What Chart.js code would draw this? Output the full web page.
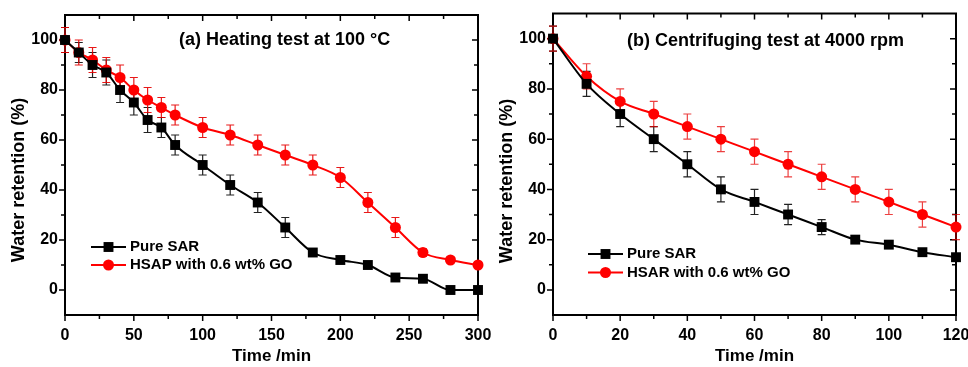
<!DOCTYPE html>
<html>
<head>
<meta charset="utf-8">
<script src="https://cdn.jsdelivr.net/npm/chart.js@4.4.1/dist/chart.umd.min.js"></script>
<style>
    body { margin: 0; background: #fff; }
    .panel { position: absolute; top: 0; height: 367px; }
</style>
</head>
<body>
<div class="panel" style="left:0; width:500px"><canvas id="chartA" width="500" height="367"></canvas></div>
<div class="panel" style="left:484px; width:484px"><canvas id="chartB" width="484" height="367"></canvas></div>
<script>
// Panel (a) heating test data
const timeA = [0, 10, 20, 30, 40, 50, 60, 70, 80, 100, 120, 140, 160, 180, 200, 220, 240, 260, 280, 300];
const pureA = [100, 95, 90, 87, 80, 75, 68, 65, 58, 50, 42, 35, 25, 15, 12, 10, 5, 4.5, 0, 0];
const pureErrA = [5, 4, 5, 5, 5, 5, 5, 4, 4, 4, 4, 4, 4, 1, 1, 1, 1, 1, 1, 1];
const hsapA = [100, 95, 92, 88, 85, 80, 76, 73, 70, 65, 62, 58, 54, 50, 45, 35, 25, 15, 12, 10];
const hsapErrA = [5, 5, 5, 5, 5, 5, 5, 4, 4, 4, 4, 4, 4, 4, 4, 4, 4, 1.5, 1, 1];

// Panel (b) centrifuging test data
const timeB = [0, 10, 20, 30, 40, 50, 60, 70, 80, 90, 100, 110, 120];
const pureB = [100, 82, 70, 60, 50, 40, 35, 30, 25, 20, 18, 15, 13];
const pureErrB = [5, 5, 5, 5, 5, 5, 5, 4, 3, 1, 1, 1, 1];
const hsarB = [100, 85, 75, 70, 65, 60, 55, 50, 45, 40, 35, 30, 25];
const hsarErrB = [5, 5, 5, 5, 5, 5, 5, 5, 5, 5, 5, 5, 5];

// Tick labels
const yTicks = [0, 20, 40, 60, 80, 100];
const xTicksA = [0, 50, 100, 150, 200, 250, 300];
const xTicksB = [0, 20, 40, 60, 80, 100, 120];

const FONT = "'Liberation Sans', Arial, sans-serif";

function toPoints(xs, ys)
{
    return xs.map((x, i) => ({ x: x, y: ys[i] }));
}

function midpoints(values)
{
    var mids = [];
    for (var i = 0; i < values.length - 1; i++) {
        mids.push((values[i] + values[i + 1]) / 2);
    }
    return mids;
}

// Frame, mirrored ticks, error bars, inner title and legend
const decorPlugin = {
    id: 'decor',
    beforeDatasetsDraw(chart, args, opts) {
        var ctx = chart.ctx;
        var area = chart.chartArea;
        var xs = chart.scales.x;
        var ys = chart.scales.y;

        ctx.save();
        ctx.strokeStyle = '#000';
        ctx.lineWidth = 2;
        ctx.strokeRect(area.left, area.top, area.right - area.left, area.bottom - area.top);

        var xMajor = xs.ticks.map(t => t.value);
        var yMajor = ys.ticks.map(t => t.value);
        ctx.lineWidth = 1.5;
        ctx.beginPath();
        xMajor.forEach(v => {
            var px = xs.getPixelForValue(v);
            ctx.moveTo(px, area.bottom); ctx.lineTo(px, area.bottom + 6);
            ctx.moveTo(px, area.top); ctx.lineTo(px, area.top + 6);
        });
        midpoints(xMajor).forEach(v => {
            var px = xs.getPixelForValue(v);
            ctx.moveTo(px, area.bottom); ctx.lineTo(px, area.bottom + 4);
            ctx.moveTo(px, area.top); ctx.lineTo(px, area.top + 4);
        });
        yMajor.forEach(v => {
            var py = ys.getPixelForValue(v);
            ctx.moveTo(area.left - 6, py); ctx.lineTo(area.left, py);
            ctx.moveTo(area.right - 6, py); ctx.lineTo(area.right, py);
        });
        midpoints(yMajor).forEach(v => {
            var py = ys.getPixelForValue(v);
            ctx.moveTo(area.left - 4, py); ctx.lineTo(area.left, py);
            ctx.moveTo(area.right - 4, py); ctx.lineTo(area.right, py);
        });
        ctx.stroke();

        // Error bars
        chart.data.datasets.forEach(ds => {
            ctx.strokeStyle = ds.errorColor;
            ctx.lineWidth = 1.2;
            ctx.beginPath();
            ds.data.forEach((p, i) => {
                var err = ds.errors[i];
                var px = xs.getPixelForValue(p.x);
                var top = ys.getPixelForValue(p.y + err);
                var bottom = ys.getPixelForValue(p.y - err);
                ctx.moveTo(px, top); ctx.lineTo(px, bottom);
                ctx.moveTo(px - 4, top); ctx.lineTo(px + 4, top);
                ctx.moveTo(px - 4, bottom); ctx.lineTo(px + 4, bottom);
            });
            ctx.stroke();
        });
        ctx.restore();
    },
    afterDraw(chart, args, opts) {
        var ctx = chart.ctx;
        var area = chart.chartArea;
        ctx.save();
        ctx.fillStyle = '#000';

        // Panel title inside plot
        ctx.font = 'bold 18px ' + FONT;
        ctx.textBaseline = 'middle';
        ctx.textAlign = 'left';
        ctx.fillText(opts.title, area.left + opts.titleX, area.top + opts.titleY);

        // Y axis title
        ctx.save();
        ctx.translate(opts.yTitleX, opts.yTitleY);
        ctx.rotate(-Math.PI / 2);
        ctx.textAlign = 'center';
        ctx.font = 'bold 18px ' + FONT;
        ctx.fillText('Water retention (%)', 0, 0);
        ctx.restore();

        // Legend
        ctx.font = 'bold 15px ' + FONT;
        chart.data.datasets.forEach((ds, i) => {
            var lx = area.left + opts.legendX;
            var ly = area.top + opts.legendY + i * opts.legendGap;
            ctx.strokeStyle = ds.borderColor;
            ctx.lineWidth = 2;
            ctx.beginPath();
            ctx.moveTo(lx, ly);
            ctx.lineTo(lx + 35, ly);
            ctx.stroke();
            ctx.fillStyle = ds.pointBackgroundColor;
            Chart.helpers.drawPoint(ctx, {
                pointStyle: ds.pointStyle, radius: ds.pointRadius, rotation: 0, borderWidth: 0
            }, lx + 17.5, ly);
            ctx.fillStyle = '#000';
            ctx.fillText(ds.label, lx + 39, ly);
        });
        ctx.restore();
    }
};

function makeDataset(label, xs, ys, errs, color, errColor, style, radius)
{
    return {
        label: label,
        data: toPoints(xs, ys),
        errors: errs,
        errorColor: errColor,
        borderColor: color,
        backgroundColor: color,
        pointBackgroundColor: color,
        pointBorderColor: color,
        pointBorderWidth: 0,
        pointStyle: style,
        pointRadius: radius,
        borderWidth: 2,
        cubicInterpolationMode: 'monotone',
        clip: false
    };
}

function makeChart(canvasId, datasets, xMax, xTicks, yWidth, padRight, padTop, decor)
{
    var ctx = document.getElementById(canvasId).getContext('2d');
    return new Chart(ctx, {
        type: 'line',
        data: { datasets: datasets },
        options: {
            responsive: false,
            animation: false,
            devicePixelRatio: 1,
            layout: { padding: { top: padTop, right: padRight, left: 0, bottom: 0 } },
            plugins: {
                legend: { display: false },
                tooltip: { enabled: false },
                decor: decor
            },
            scales: {
                x: {
                    type: 'linear',
                    min: 0,
                    max: xMax,
                    afterBuildTicks: s => { s.ticks = xTicks.map(v => ({ value: v })); },
                    afterFit: s => {
                        s.height = 52;
                        // keep the last tick label from shrinking the plot
                        s.paddingLeft = 0;
                        s.paddingRight = 0;
                    },
                    grid: { display: false, drawTicks: false },
                    border: { display: false },
                    ticks: { color: '#000', font: { family: FONT, size: 16, weight: 'bold' }, padding: 11, maxRotation: 0 },
                    title: {
                        display: true, text: 'Time /min', color: '#000',
                        font: { family: FONT, size: 17, weight: 'bold' },
                        padding: { top: 0, bottom: 0 }
                    }
                },
                y: {
                    type: 'linear',
                    min: -10,
                    max: 110,
                    afterBuildTicks: s => { s.ticks = yTicks.map(v => ({ value: v })); },
                    afterFit: s => {
                        s.width = yWidth;
                        s.paddingTop = 0;
                        s.paddingBottom = 0;
                    },
                    grid: { display: false, drawTicks: false },
                    border: { display: false },
                    ticks: { color: '#000', font: { family: FONT, size: 16, weight: 'bold' }, padding: 7 }
                }
            }
        },
        plugins: [decorPlugin]
    });
}

makeChart('chartA', [
    makeDataset('Pure SAR', timeA, pureA, pureErrA, '#000', '#222', 'rect', 7),
    makeDataset('HSAP with 0.6 wt% GO', timeA, hsapA, hsapErrA, '#ff0000', 'rgba(230,0,0,0.9)', 'circle', 5.5)
], 300, xTicksA, 65, 22, 15, {
    title: '(a) Heating test at 100 \u00B0C', titleX: 114, titleY: 25,
    yTitleX: 19, yTitleY: 180,
    legendX: 26, legendY: 232, legendGap: 18
});

makeChart('chartB', [
    makeDataset('Pure SAR', timeB, pureB, pureErrB, '#000', '#222', 'rect', 7),
    makeDataset('HSAR with 0.6 wt% GO', timeB, hsarB, hsarErrB, '#ff0000', 'rgba(230,0,0,0.75)', 'circle', 5.5)
], 120, xTicksB, 69, 12, 13.5, {
    title: '(b) Centrifuging test at 4000 rpm', titleX: 74, titleY: 28,
    yTitleX: 23, yTitleY: 181,
    legendX: 35, legendY: 240.5, legendGap: 18.5
});
</script>
</body>
</html>
